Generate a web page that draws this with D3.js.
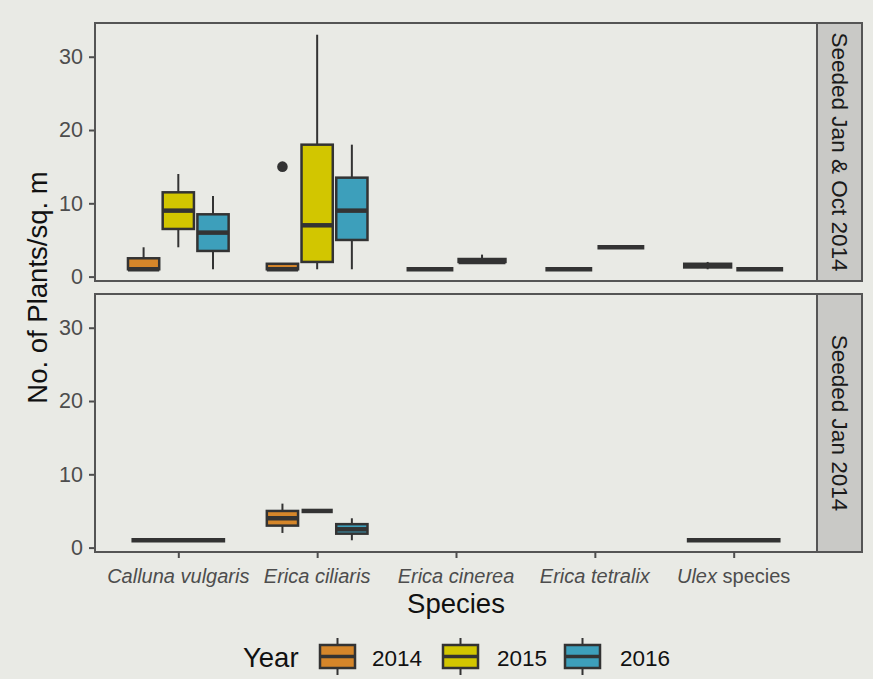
<!DOCTYPE html>
<html>
<head>
<meta charset="utf-8">
<script src="https://cdn.jsdelivr.net/npm/d3@7/dist/d3.min.js"></script>
<style>
  html, body { margin: 0; padding: 0; background: #e9eae5; }
  svg { display: block; }
</style>
</head>
<body>
<svg id="chart" width="873" height="679"></svg>
<script>
// ---------------- DATA ----------------
const species = ["Calluna vulgaris", "Erica ciliaris", "Erica cinerea", "Erica tetralix", "Ulex species"];
const speciesItalic = ["Calluna vulgaris", "Erica ciliaris", "Erica cinerea", "Erica tetralix", "Ulex"];
const speciesPlain = ["", "", "", "", " species"];
const years = ["2014", "2015", "2016"];
const panels = ["Seeded Jan & Oct 2014", "Seeded Jan 2014"];
const yTicks = [0, 10, 20, 30];

// box statistics: [species, year, min, q1, median, q3, max]
const boxesTop = [
  ["Calluna vulgaris", "2014", 1, 1, 1, 2.5, 4],
  ["Calluna vulgaris", "2015", 4, 6.5, 9, 11.5, 14],
  ["Calluna vulgaris", "2016", 1, 3.5, 6, 8.5, 11],
  ["Erica ciliaris", "2014", 1, 1, 1, 1.75, 1.75],
  ["Erica ciliaris", "2015", 1, 2, 7, 18, 33],
  ["Erica ciliaris", "2016", 1, 5, 9, 13.5, 18],
  ["Erica cinerea", "2014", 1, 1, 1, 1, 1],
  ["Erica cinerea", "2016", 2, 2, 2, 2.4, 3],
  ["Erica tetralix", "2014", 1, 1, 1, 1, 1],
  ["Erica tetralix", "2016", 4, 4, 4, 4, 4],
  ["Ulex species", "2014", 1, 1.25, 1.5, 1.75, 2],
  ["Ulex species", "2016", 1, 1, 1, 1, 1]
];
const boxesBottom = [
  ["Calluna vulgaris", "2014", 1, 1, 1, 1, 1],
  ["Erica ciliaris", "2014", 2, 3, 4, 5, 6],
  ["Erica ciliaris", "2015", 5, 5, 5, 5, 5],
  ["Erica ciliaris", "2016", 1, 1.9, 2.5, 3.2, 4],
  ["Ulex species", "2014", 1, 1, 1, 1, 1]
];
// outliers: [panelIndex, species, year, value]
const outliers = [
  [0, "Erica ciliaris", "2014", 15]
];
const yearColors = ["#d5862a", "#d2c600", "#3d9fbb"];

// ---------------- LAYOUT ----------------
const W = 873, H = 679;
const px0 = 95, px1 = 817;
const panelBoxes = [[23, 281], [294, 552]];
const stripX0 = 817, stripX1 = 862;
const FONT = "'Liberation Sans', Arial, Helvetica, sans-serif";
const ink = "#333333";
const bg = "#e9eae5";

const svg = d3.select("#chart");
svg.append("rect").attr("width", W).attr("height", H).attr("fill", bg);

const x = d3.scalePoint().domain(species).range([px0, px1]).padding(0.6);
const step = x.step();
const color = d3.scaleOrdinal().domain(years).range(yearColors);

const allBoxes = [boxesTop, boxesBottom];

panelBoxes.forEach(([pt, pb], pi) => {
  const y = d3.scaleLinear().domain([-0.6, 34.6]).range([pb, pt]);
  const g = svg.append("g");

  g.append("rect").attr("x", px0).attr("y", pt).attr("width", px1 - px0).attr("height", pb - pt)
    .attr("fill", bg);

  const yAxis = d3.axisLeft(y).tickValues(yTicks).tickSize(6).tickPadding(6);
  const ya = g.append("g").attr("transform", `translate(${px0},0)`).call(yAxis);
  ya.select(".domain").remove();
  ya.selectAll(".tick line").attr("stroke", "#4d4d4d").attr("stroke-width", 2);
  ya.selectAll(".tick text").attr("fill", "#4d4d4d").attr("font-family", FONT).attr("font-size", 21.5);

  const data = allBoxes[pi];
  const groupsBySpecies = d3.group(data, d => d[0]);
  const rows = data.map(d => {
    const present = groupsBySpecies.get(d[0]).map(e => e[1]).sort();
    const k = present.length;
    const i = present.indexOf(d[1]);
    const slot = 0.75 * step / k;
    const cx = x(d[0]) - 0.75 * step / 2 + slot * (i + 0.5);
    return { sp: d[0], yr: d[1], min: d[2], q1: d[3], med: d[4], q3: d[5], max: d[6], cx, w: slot * 0.9 };
  });

  const bx = g.append("g");
  rows.forEach(r => {
    const gg = bx.append("g");
    gg.append("line").attr("x1", r.cx).attr("x2", r.cx).attr("y1", y(r.q3)).attr("y2", y(r.max))
      .attr("stroke", ink).attr("stroke-width", 2);
    gg.append("line").attr("x1", r.cx).attr("x2", r.cx).attr("y1", y(r.q1)).attr("y2", y(r.min))
      .attr("stroke", ink).attr("stroke-width", 2);
    gg.append("rect").attr("x", r.cx - r.w / 2).attr("y", y(r.q3)).attr("width", r.w)
      .attr("height", Math.max(0, y(r.q1) - y(r.q3)))
      .attr("fill", color(r.yr)).attr("stroke", ink).attr("stroke-width", 2.5);
    gg.append("line").attr("x1", r.cx - r.w / 2).attr("x2", r.cx + r.w / 2)
      .attr("y1", y(r.med)).attr("y2", y(r.med))
      .attr("stroke", ink).attr("stroke-width", 4.5);
  });

  outliers.filter(o => o[0] === pi).forEach(o => {
    const present = groupsBySpecies.get(o[1]).map(e => e[1]).sort();
    const k = present.length;
    const i = present.indexOf(o[2]);
    const slot = 0.75 * step / k;
    const cx = x(o[1]) - 0.75 * step / 2 + slot * (i + 0.5);
    g.append("circle").attr("cx", cx).attr("cy", y(o[3])).attr("r", 5.3).attr("fill", ink);
  });

  g.append("rect").attr("x", px0).attr("y", pt).attr("width", px1 - px0).attr("height", pb - pt)
    .attr("fill", "none").attr("stroke", "#555555").attr("stroke-width", 2);

  g.append("rect").attr("x", stripX0).attr("y", pt).attr("width", stripX1 - stripX0).attr("height", pb - pt)
    .attr("fill", "#c9c9c6").attr("stroke", "#555555").attr("stroke-width", 2);
  g.append("text")
    .attr("transform", `translate(${(stripX0 + stripX1) / 2 - 8},${(pt + pb) / 2}) rotate(90)`)
    .attr("text-anchor", "middle")
    .attr("font-family", FONT).attr("font-size", 22.5).attr("fill", "#1a1a1a")
    .text(panels[pi]);

  if (pi === 1) {
    const xa = g.append("g").attr("transform", `translate(0,${pb})`)
      .call(d3.axisBottom(x).tickSize(6).tickFormat(""));
    xa.select(".domain").remove();
    xa.selectAll(".tick line").attr("stroke", "#4d4d4d").attr("stroke-width", 2);
    species.forEach((s, i) => {
      const t = g.append("text").attr("x", x(s)).attr("y", pb + 31)
        .attr("text-anchor", "middle").attr("font-family", FONT).attr("font-size", 20)
        .attr("fill", "#4d4d4d");
      t.append("tspan").attr("font-style", "italic").text(speciesItalic[i]);
      if (speciesPlain[i]) t.append("tspan").text(speciesPlain[i]);
    });
  }
});

svg.append("text")
  .attr("x", (px0 + px1) / 2).attr("y", 613)
  .attr("text-anchor", "middle").attr("font-family", FONT).attr("font-size", 27.5).attr("fill", "#111")
  .text("Species");
svg.append("text")
  .attr("transform", `translate(47,${(23 + 552) / 2}) rotate(-90)`)
  .attr("text-anchor", "middle").attr("font-family", FONT).attr("font-size", 27.5).attr("fill", "#111")
  .text("No. of Plants/sq. m");

const lg = svg.append("g");
lg.append("text").attr("x", 243).attr("y", 667)
  .attr("font-family", FONT).attr("font-size", 27.5).attr("fill", "#111").text("Year");
const keyX = [320, 443, 565];
const labX = [372, 497, 620];
years.forEach((yr, i) => {
  const kx = keyX[i], kw = 35, cx = kx + kw / 2;
  lg.append("line").attr("x1", cx).attr("x2", cx).attr("y1", 638).attr("y2", 675)
    .attr("stroke", ink).attr("stroke-width", 2);
  lg.append("rect").attr("x", kx).attr("y", 645).attr("width", kw).attr("height", 23)
    .attr("fill", color(yr)).attr("stroke", ink).attr("stroke-width", 2.5);
  lg.append("line").attr("x1", kx).attr("x2", kx + kw).attr("y1", 656.5).attr("y2", 656.5)
    .attr("stroke", ink).attr("stroke-width", 3.5);
  lg.append("text").attr("x", labX[i]).attr("y", 666)
    .attr("font-family", FONT).attr("font-size", 22.5).attr("fill", "#111").text(yr);
});
</script>
</body>
</html>
